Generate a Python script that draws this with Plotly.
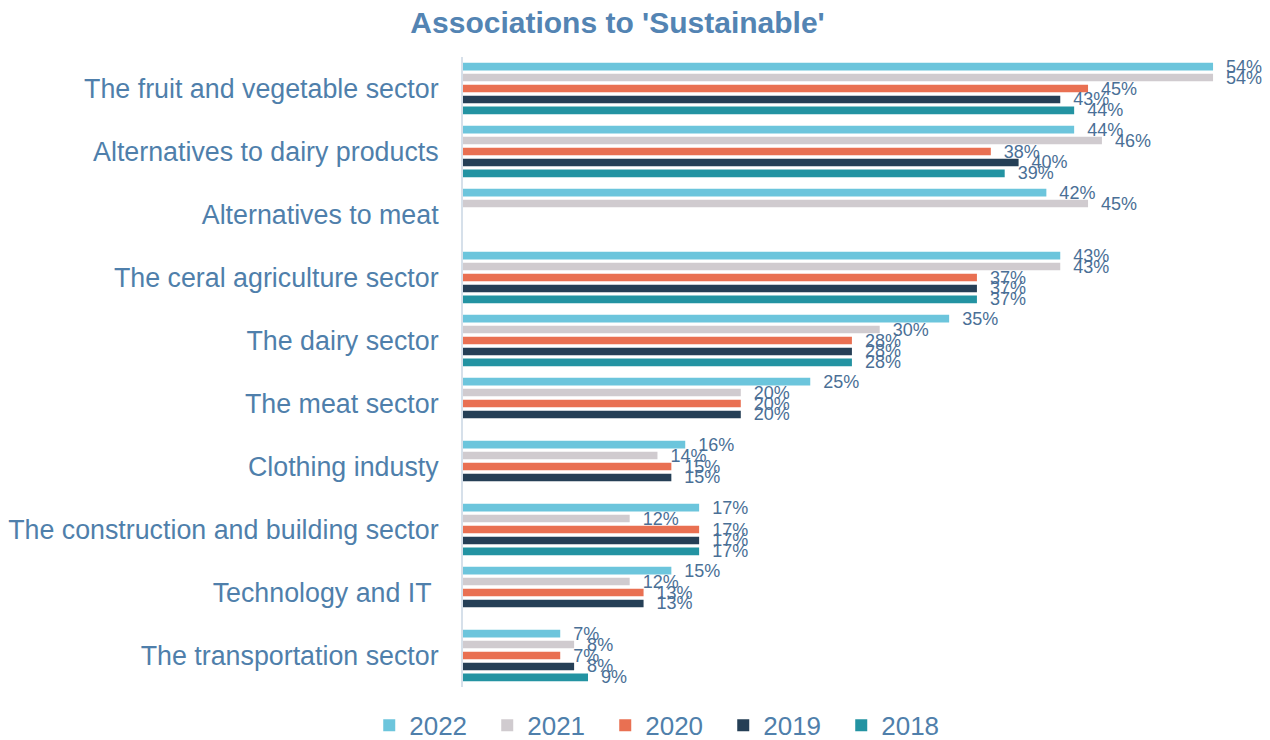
import plotly.graph_objects as go

categories = [
    "The fruit and vegetable sector",
    "Alternatives to dairy products",
    "Alternatives to meat",
    "The ceral agriculture sector",
    "The dairy sector",
    "The meat sector",
    "Clothing industy",
    "The construction and building sector",
    "Technology and IT ",
    "The transportation sector",
]

years = ["2022", "2021", "2020", "2019", "2018"]
v2022 = [54, 44, 42, 43, 35, 25, 16, 17, 15, 7]
v2021 = [54, 46, 45, 43, 30, 20, 14, 12, 12, 8]
v2020 = [45, 38, None, 37, 28, 20, 15, 17, 13, 7]
v2019 = [43, 40, None, 37, 28, 20, 15, 17, 13, 8]
v2018 = [44, 39, None, 37, 28, None, None, 17, None, 9]

colors = ["#6cc5dc", "#d0cbcf", "#e97052", "#253f56", "#2393a2"]
series = [v2022, v2021, v2020, v2019, v2018]

label_color = "#4f7fab"

fig = go.Figure()
for name, vals, col in zip(years, series, colors):
    fig.add_trace(go.Bar(
        y=categories,
        x=vals,
        name=name,
        orientation="h",
        marker=dict(color=col, line=dict(width=0)),
        text=[f"\u00a0\u00a0{v}%" if v is not None else "" for v in vals],
        textposition="outside",
        constraintext="none",
        cliponaxis=False,
        textfont=dict(size=18, color="#4a6f96"),
    ))

# page body adds an 8px offset, so the figure is drawn 8px smaller
fig.update_layout(
    title=dict(
        text="<b>Associations to 'Sustainable'</b>",
        x=0.483, xanchor="center", y=0.98, yanchor="middle",
        font=dict(size=30, color="#5384b3", family="Liberation Sans, Arial"),
    ),
    barmode="group",
    bargap=0.13,
    bargroupgap=0.3,
    plot_bgcolor="white",
    paper_bgcolor="white",
    font=dict(family="Liberation Sans, Arial", color=label_color),
    width=1262,
    height=732,
    margin=dict(l=455, r=20, t=49, b=53, autoexpand=False),
    xaxis=dict(
        range=[0, 56.66],
        visible=False,
        showgrid=False,
        zeroline=False,
    ),
    yaxis=dict(
        autorange="reversed",
        automargin=False,
        showgrid=False,
        showline=True,
        linecolor="#d6e0ea",
        linewidth=2,
        ticks="",
        ticklabelstandoff=17,
        tickfont=dict(size=26.8, color=label_color),
    ),
    legend=dict(
        orientation="h",
        xref="container", yref="container",
        x=0.52, xanchor="center",
        y=0.02, yanchor="middle",
        font=dict(size=26, color=label_color),
        itemwidth=30,
        entrywidth=73,
        traceorder="normal",
    ),
)

fig.write_html("out.html")
